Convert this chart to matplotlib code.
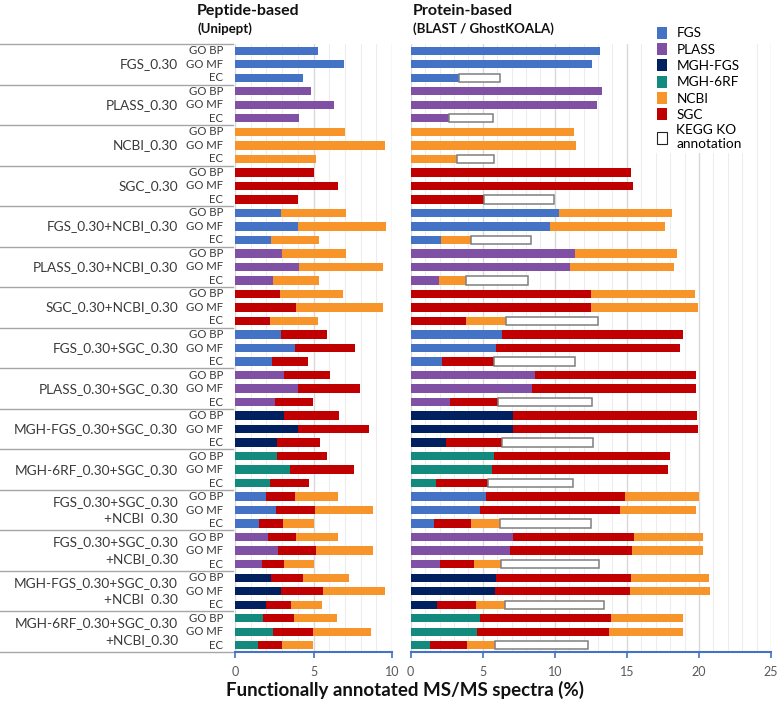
import matplotlib
matplotlib.use("Agg")
import matplotlib.pyplot as plt
from matplotlib.patches import Patch
from matplotlib.transforms import blended_transform_factory
from matplotlib.ticker import MultipleLocator

plt.rcParams['font.family'] = ['Lato', 'DejaVu Sans']

# ---------------- data ----------------
groups = ["FGS_0.30", "PLASS_0.30", "NCBI_0.30", "SGC_0.30",
          "FGS_0.30+NCBI_0.30", "PLASS_0.30+NCBI_0.30", "SGC_0.30+NCBI_0.30",
          "FGS_0.30+SGC_0.30", "PLASS_0.30+SGC_0.30", "MGH-FGS_0.30+SGC_0.30",
          "MGH-6RF_0.30+SGC_0.30",
          "FGS_0.30+SGC_0.30\n+NCBI  0.30", "FGS_0.30+SGC_0.30\n+NCBI_0.30",
          "MGH-FGS_0.30+SGC_0.30\n+NCBI  0.30", "MGH-6RF_0.30+SGC_0.30\n+NCBI_0.30"]
metrics = ["GO BP", "GO MF", "EC"]

sources = [["FGS"], ["PLASS"], ["NCBI"], ["SGC"],
           ["FGS", "NCBI"], ["PLASS", "NCBI"], ["SGC", "NCBI"],
           ["FGS", "SGC"], ["PLASS", "SGC"], ["MGH-FGS", "SGC"], ["MGH-6RF", "SGC"],
           ["FGS", "SGC", "NCBI"], ["PLASS", "SGC", "NCBI"],
           ["MGH-FGS", "SGC", "NCBI"], ["MGH-6RF", "SGC", "NCBI"]]

# Peptide-based (Unipept): segment widths per group, per metric [GO BP, GO MF, EC]
peptide = [
    [[5.30], [6.96], [4.33]],
    [[4.84], [6.33], [4.08]],
    [[7.00], [9.53], [5.19]],
    [[5.02], [6.57], [4.04]],
    [[2.96, 4.14], [4.02, 5.58], [2.32, 3.02]],
    [[3.00, 4.06], [4.06, 5.39], [2.45, 2.93]],
    [[2.87, 4.04], [3.91, 5.49], [2.26, 3.00]],
    [[2.91, 2.94], [3.79, 3.85], [2.34, 2.34]],
    [[3.09, 2.97], [4.04, 3.90], [2.53, 2.41]],
    [[3.15, 3.47], [4.02, 4.51], [2.70, 2.73]],
    [[2.66, 3.19], [3.49, 4.11], [2.26, 2.48]],
    [[1.98, 1.85, 2.74], [2.64, 2.45, 3.72], [1.55, 1.49, 1.98]],
    [[2.13, 1.78, 2.66], [2.77, 2.40, 3.60], [1.70, 1.45, 1.91]],
    [[2.30, 2.06, 2.87], [2.94, 2.66, 3.95], [1.98, 1.59, 2.00]],
    [[1.81, 1.96, 2.72], [2.45, 2.49, 3.70], [1.49, 1.51, 1.94]],
]

# Protein-based (BLAST / GhostKOALA): segment widths per group, per metric
protein = [
    [[13.15], [12.57], [3.33]],
    [[13.26], [12.92], [2.64]],
    [[11.30], [11.48], [3.19]],
    [[15.32], [15.42], [5.09]],
    [[10.32, 7.79], [9.68, 7.99], [2.08, 2.13]],
    [[11.37, 7.11], [11.06, 7.21], [1.99, 1.85]],
    [[12.51, 7.22], [12.52, 7.42], [3.82, 2.78]],
    [[6.32, 12.60], [5.93, 12.74], [2.15, 3.61]],
    [[8.63, 11.19], [8.45, 11.33], [2.71, 3.33]],
    [[7.10, 12.77], [7.10, 12.81], [2.45, 3.89]],
    [[5.79, 12.18], [5.63, 12.23], [1.76, 3.63]],
    [[5.23, 9.64, 5.11], [4.81, 9.71, 5.26], [1.62, 2.59, 1.97]],
    [[7.13, 8.36, 4.79], [6.92, 8.43, 4.93], [2.01, 2.37, 1.92]],
    [[5.90, 9.40, 5.42], [5.83, 9.42, 5.51], [1.85, 2.69, 2.03]],
    [[4.81, 9.08, 5.00], [4.61, 9.16, 5.12], [1.34, 2.60, 1.92]],
]

# KEGG KO annotation (EC rows, protein-based): extra width beyond stacked EC
kegg = [2.87, 3.10, 2.62, 4.84, 4.17, 4.29, 6.40, 5.63, 6.53, 6.30, 5.84,
        6.30, 6.80, 6.81, 6.41]

colors = {"FGS": "#4472C4", "PLASS": "#7F50A3", "MGH-FGS": "#002060",
          "MGH-6RF": "#138A7E", "NCBI": "#F7952A", "SGC": "#C00000"}
legend_order = ["FGS", "PLASS", "MGH-FGS", "MGH-6RF", "NCBI", "SGC"]

# ---------------- figure ----------------
W, H = 778, 704
fig = plt.figure(figsize=(W / 100, H / 100), dpi=100)

top_px, bot_px = 44, 652
ax1 = fig.add_axes([235 / W, 1 - bot_px / H, (392 - 235) / W, (bot_px - top_px) / H])
ax2 = fig.add_axes([410.7 / W, 1 - bot_px / H, (771 - 410.7) / W, (bot_px - top_px) / H])

n_rows = len(groups) * len(metrics)
bar_h = 0.62
axis_blue = "#4472C4"


def draw_panel(ax, data, xmax, with_kegg):
    for gi, grp in enumerate(data):
        for mi, segs in enumerate(grp):
            y = gi * 3 + mi + 0.5
            left = 0.0
            for si, w in enumerate(segs):
                ax.barh(y, w, left=left, height=bar_h,
                        color=colors[sources[gi][si]], linewidth=0, zorder=3)
                left += w
            if with_kegg and mi == 2:
                ax.barh(y, kegg[gi], left=left, height=bar_h, color="white",
                        edgecolor="#7F7F7F", linewidth=1.1, zorder=3)
    ax.set_xlim(0, xmax)
    ax.set_ylim(n_rows, 0)
    ax.set_yticks([])
    ax.xaxis.set_major_locator(MultipleLocator(5))
    ax.xaxis.set_minor_locator(MultipleLocator(1))
    ax.grid(axis="x", which="major", color="#D9D9D9", linewidth=1.0, zorder=0)
    ax.grid(axis="x", which="minor", color="#EDEDED", linewidth=0.8, zorder=0)
    ax.set_axisbelow(True)
    for s in ["top", "left", "right"]:
        ax.spines[s].set_visible(False)
    ax.spines["bottom"].set_color(axis_blue)
    ax.spines["bottom"].set_linewidth(1.5)
    ax.tick_params(axis="x", which="major", length=4, width=1.2, color=axis_blue,
                   labelsize=9, labelcolor="#595959", pad=6)
    ax.tick_params(axis="x", which="minor", length=0)


draw_panel(ax1, peptide, 10, False)
draw_panel(ax2, protein, 25, True)

# category labels and separators on the left
tr = blended_transform_factory(fig.transFigure, ax1.transData)
for gi, g in enumerate(groups):
    yc = gi * 3 + 1.5
    ax1.text(178 / W, yc, g, transform=tr, ha="right", va="center",
             multialignment="right", fontsize=9.8, color="#3A3A3A",
             linespacing=1.5)
    for mi, m in enumerate(metrics):
        ax1.text(223 / W, gi * 3 + mi + 0.5, m, transform=tr, ha="right",
                 va="center", fontsize=8.2, color="#3A3A3A")
for k in range(len(groups) + 1):
    ax1.plot([0, 233 / W], [k * 3, k * 3], transform=tr, color="#A6A6A6",
             linewidth=1.0, clip_on=False)

# titles
fig.text(197 / W, 1 - 11 / H, "Peptide-based", fontsize=11.5, fontweight="bold",
         ha="left", va="center", color="#111111")
fig.text(197 / W, 1 - 29 / H, "(Unipept)", fontsize=9.5, fontweight="bold",
         ha="left", va="center", color="#111111")
fig.text(413 / W, 1 - 11 / H, "Protein-based", fontsize=11.5, fontweight="bold",
         ha="left", va="center", color="#111111")
fig.text(413 / W, 1 - 29 / H, "(BLAST / GhostKOALA)", fontsize=9.5, fontweight="bold",
         ha="left", va="center", color="#111111")

fig.text(405 / W, 1 - 690 / H, "Functionally annotated MS/MS spectra (%)",
         fontsize=13.5, fontweight="bold", ha="center", va="center",
         color="#111111")

# legend
handles = [Patch(facecolor=colors[s], edgecolor="none") for s in legend_order]
handles.append(Patch(facecolor="white", edgecolor="#222222", linewidth=0.8))
labels = legend_order + ["KEGG KO\nannotation"]
fig.legend(handles, labels, loc="upper left",
           bbox_to_anchor=(654 / W, 1 - 24 / H), frameon=True,
           facecolor="white", edgecolor="none", framealpha=1, fontsize=9.8,
           handlelength=0.75, handleheight=1.0, handletextpad=0.7,
           labelspacing=0.26, borderpad=0.2, borderaxespad=0)

fig.savefig("out.png", dpi=100)
